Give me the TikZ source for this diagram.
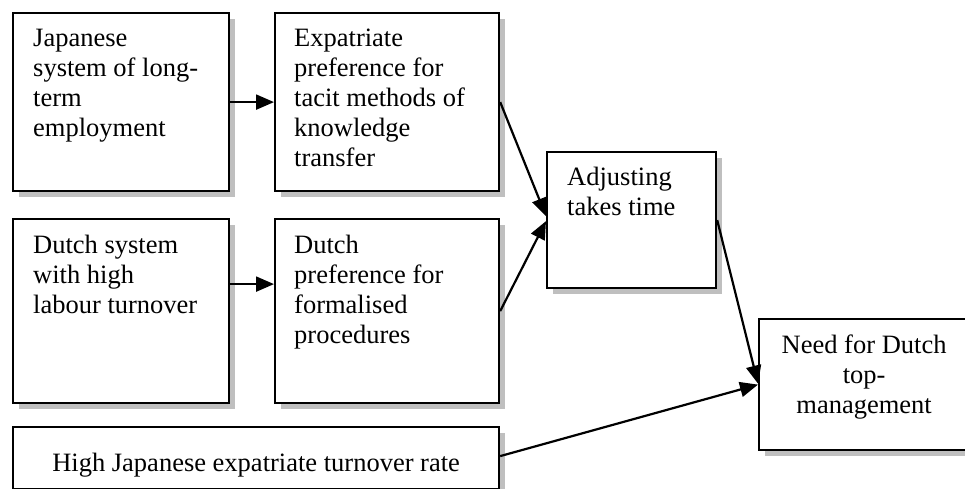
\documentclass[tikz,border=0pt]{standalone}
\usepackage{fontspec}
\setmainfont{Liberation Serif}
\usetikzlibrary{arrows.meta,shadows}

\begin{document}
\begin{tikzpicture}[x=1pt,y=-1pt,
  box/.style={draw, line width=2.2pt, fill=white, inner sep=0pt, anchor=north west,
    drop shadow={shadow xshift=6pt, shadow yshift=-6pt, fill=black!25, opacity=1}},
  txt/.style={inner sep=0pt, anchor=base west, align=left,
    font=\fontsize{26.5}{30}\selectfont},
  ctxt/.style={inner sep=0pt, anchor=base, align=center,
    font=\fontsize{26.5}{30}\selectfont},
  link/.style={line width=2.2pt, -{Triangle[length=18pt,width=15pt]}}]

\useasboundingbox (0,0) rectangle (965,489);

% boxes
\node[box, minimum width=216pt, minimum height=178pt] (A) at (12,12) {};
\node[box, minimum width=224pt, minimum height=178pt] (B) at (274,12) {};
\node[box, minimum width=216pt, minimum height=184pt] (C) at (12,218) {};
\node[box, minimum width=224pt, minimum height=184pt] (D) at (274,218) {};
\node[box, minimum width=169pt, minimum height=136pt] (E) at (546,151) {};
\node[box, minimum width=214pt, minimum height=131pt] (F) at (758,318) {};
\node[box, minimum width=486pt, minimum height=62pt] (G) at (12,426) {};

% texts (the base anchor sits on the last line of each block)
\node[txt] (At) at ([xshift=21pt,yshift=-125pt]A.north west)
  {Japanese\\system of long-\\term\\employment};
\node[txt] (Bt) at ([xshift=20pt,yshift=-155pt]B.north west)
  {Expatriate\\preference for\\tacit methods of\\knowledge\\transfer};
\node[txt] (Ct) at ([xshift=21pt,yshift=-95pt]C.north west)
  {Dutch system\\with high\\labour turnover};
\node[txt] (Dt) at ([xshift=20pt,yshift=-125pt]D.north west)
  {Dutch\\preference for\\formalised\\procedures};
\node[txt] (Et) at ([xshift=21pt,yshift=-64pt]E.north west)
  {Adjusting\\takes time};
\node[ctxt] (Ft) at ([xshift=-2pt,yshift=-95pt]F.north)
  {Need for Dutch\\top-\\management};
\node[ctxt] (Gt) at ([yshift=-13pt]G.center)
  {High Japanese expatriate turnover rate};

% connectors
\draw[link] (A.east) -- (B.west);
\draw[link] ([yshift=27pt]C.east) -- ([yshift=27pt]D.west);
\draw[link] (B.east) -- ([yshift=4pt]E.west);
\draw[link] (D.east) -- ([yshift=-1pt]E.west);
\draw[link] (E.east) -- ([yshift=1pt]F.west);
\draw[link] ([yshift=2pt]G.east) -- (F.west);

\end{tikzpicture}
\end{document}
